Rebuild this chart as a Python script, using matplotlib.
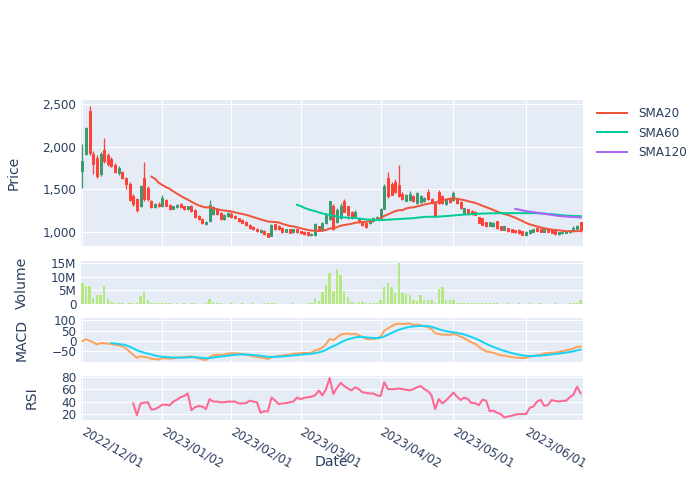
import matplotlib.pyplot as plt
import matplotlib.ticker as ticker
from matplotlib.colors import to_rgba
import numpy as np
import pandas as pd

# Tokyo trading days, 2022/12/01 - 2023/06/22
holidays = ["2023-01-02", "2023-01-03", "2023-01-09", "2023-02-23",
            "2023-03-21", "2023-05-03", "2023-05-04", "2023-05-05"]
dates = pd.bdate_range("2022-12-01", "2023-06-22")
dates = dates[~dates.isin(pd.to_datetime(holidays))]

open_ = [1717, 1913, 2422, 1920, 1870, 1680, 1960, 1900, 1860, 1790,
         1690, 1710, 1640, 1570, 1420, 1390, 1300, 1630, 1520, 1370,
         1290, 1330, 1300, 1380, 1320, 1275, 1295, 1330, 1300, 1270,
         1310, 1260, 1185, 1150, 1090, 1125, 1215, 1270, 1220, 1150,
         1190, 1215, 1190, 1160, 1140, 1120, 1080, 1060, 1040, 1000,
         1010, 985, 955, 1090, 1075, 1050, 1000, 1030, 995, 1030,
         1010, 1005, 995, 960, 965, 1065, 1025, 1100, 1150, 1300,
         1120, 1160, 1370, 1300, 1240, 1190, 1160, 1120, 1100, 1100,
         1130, 1150, 1160, 1275, 1640, 1560, 1590, 1550, 1450, 1370,
         1375, 1420, 1340, 1355, 1360, 1470, 1390, 1335, 1470, 1420,
         1330, 1395, 1376, 1395, 1357, 1221, 1267, 1252, 1240, 1174,
         1163, 1116, 1074, 1066, 1124, 1066, 1027, 1047, 1035, 1020,
         1027, 1008, 960, 985, 1005, 1050, 1040, 1000, 1030, 1030,
         1010, 975, 985, 990, 995, 1010, 1040, 1112]
high = [2040, 2235, 2480, 1950, 1900, 1940, 2110, 1930, 1880, 1810,
        1770, 1720, 1650, 1590, 1450, 1400, 1550, 1820, 1540, 1380,
        1340, 1350, 1430, 1390, 1330, 1310, 1330, 1340, 1310, 1310,
        1320, 1270, 1195, 1160, 1125, 1380, 1300, 1280, 1230, 1210,
        1240, 1230, 1200, 1170, 1150, 1125, 1090, 1065, 1045, 1030,
        1020, 990, 1090, 1095, 1085, 1055, 1040, 1040, 1040, 1040,
        1015, 1010, 1000, 985, 1100, 1075, 1120, 1215, 1370, 1330,
        1280, 1340, 1385, 1310, 1250, 1255, 1170, 1130, 1105, 1140,
        1180, 1190, 1285, 1560, 1700, 1590, 1620, 1790, 1470, 1445,
        1480, 1430, 1465, 1430, 1410, 1500, 1400, 1340, 1490, 1430,
        1400, 1405, 1480, 1400, 1365, 1285, 1275, 1260, 1245, 1180,
        1170, 1120, 1120, 1112, 1130, 1070, 1070, 1052, 1040, 1025,
        1032, 1012, 1008, 1025, 1035, 1058, 1045, 1045, 1035, 1035,
        1015, 1005, 1010, 1015, 1025, 1070, 1080, 1115]
low = [1520, 1900, 1910, 1680, 1640, 1660, 1810, 1780, 1760, 1690,
       1670, 1620, 1510, 1370, 1300, 1240, 1290, 1370, 1370, 1280,
       1280, 1290, 1290, 1300, 1260, 1265, 1285, 1280, 1255, 1260,
       1240, 1165, 1140, 1095, 1080, 1120, 1200, 1200, 1140, 1140,
       1180, 1170, 1150, 1120, 1100, 1075, 1040, 1020, 1000, 990,
       970, 935, 950, 1020, 1020, 990, 995, 985, 990, 990,
       975, 970, 955, 955, 955, 1010, 1015, 1090, 1140, 1020,
       1110, 1150, 1230, 1155, 1150, 1180, 1110, 1075, 1050, 1090,
       1120, 1140, 1150, 1265, 1400, 1430, 1455, 1410, 1380, 1360,
       1365, 1355, 1330, 1345, 1350, 1380, 1330, 1180, 1330, 1325,
       1320, 1345, 1370, 1330, 1270, 1215, 1215, 1205, 1195, 1100,
       1080, 1060, 1070, 1060, 1040, 1020, 1022, 1002, 995, 990,
       982, 960, 955, 980, 1000, 1005, 995, 995, 995, 985,
       970, 970, 980, 985, 990, 1005, 1035, 1000]
close = [1834, 2226, 1932, 1795, 1660, 1920, 1830, 1800, 1780, 1700,
         1750, 1640, 1560, 1380, 1330, 1260, 1545, 1390, 1385, 1290,
         1330, 1300, 1400, 1310, 1270, 1300, 1320, 1290, 1265, 1300,
         1250, 1175, 1150, 1110, 1120, 1320, 1290, 1210, 1150, 1200,
         1220, 1180, 1160, 1130, 1110, 1085, 1050, 1030, 1010, 1025,
         980, 945, 1080, 1030, 1030, 1000, 1030, 990, 1030, 995,
         985, 980, 960, 975, 1090, 1020, 1110, 1205, 1360, 1040,
         1260, 1300, 1240, 1195, 1160, 1240, 1120, 1080, 1060, 1130,
         1170, 1180, 1275, 1545, 1420, 1440, 1470, 1420, 1390, 1430,
         1450, 1365, 1455, 1420, 1400, 1390, 1340, 1190, 1340, 1335,
         1390, 1355, 1453, 1337, 1279, 1279, 1221, 1213, 1201, 1105,
         1085, 1066, 1116, 1108, 1047, 1027, 1066, 1008, 1000, 995,
         988, 969, 1000, 1020, 1030, 1010, 1000, 1040, 1000, 990,
         975, 1000, 1005, 1010, 1020, 1050, 1075, 1019]
# volume in millions of shares
volume_m = [7.6, 6.8, 6.8, 2.1, 3.4, 3.4, 6.5, 1.9, 0.75, 0.3,
            0.2, 0.2, 0.15, 0.3, 0.2, 0.2, 3.1, 4.4, 1.3, 0.3,
            0.2, 0.3, 0.5, 0.3, 0.2, 0.15, 0.2, 0.15, 0.2, 0.1,
            0.2, 0.2, 0.1, 0.15, 0.3, 1.8, 0.75, 0.25, 0.2, 0.1,
            0.15, 0.2, 0.1, 0.15, 0.2, 0.1, 0.15, 0.2, 0.15, 0.1,
            0.2, 0.3, 0.4, 0.2, 0.15, 0.1, 0.15, 0.1, 0.2, 0.15,
            0.1, 0.15, 0.2, 0.3, 2.3, 1.0, 4.4, 7.2, 11.6, 4.9,
            13.1, 10.6, 4.7, 2.5, 0.75, 0.5, 0.9, 0.6, 0.25, 0.2,
            0.25, 0.3, 1.3, 6.3, 7.9, 6.4, 4.0, 15.0, 4.2, 3.7,
            3.5, 1.3, 1.0, 3.5, 1.5, 1.3, 1.6, 0.4, 5.4, 6.4,
            1.4, 1.3, 1.6, 0.5, 0.4, 0.3, 0.4, 0.3, 0.2, 0.3,
            0.3, 0.2, 0.2, 0.25, 0.2, 0.15, 0.1, 0.2, 0.15, 0.1,
            0.2, 0.15, 0.1, 0.2, 0.15, 0.1, 0.2, 0.15, 0.1, 0.15,
            0.2, 0.1, 0.15, 0.1, 0.2, 0.3, 0.3, 1.5]
# RSI(14), first value on day 14
rsi = [37, 18, 37, 38, 39, 27, 28, 31, 35, 35,
       34, 40, 43, 47, 49, 53, 26, 31, 33, 32,
       28, 44, 40, 40, 39, 39, 40, 40, 40, 37,
       37, 37.5, 41.5, 40, 39, 22, 24.5, 24, 46.5, 41.5,
       36, 37, 37.5, 39, 40, 46.5, 44, 46, 47, 48,
       50, 58, 50, 60, 78, 52, 62, 70, 65, 61,
       58, 63, 60, 55, 54, 53, 53, 50, 49, 71,
       60, 60, 60, 61, 60, 59, 58, 60, 63, 65,
       60, 57, 50, 28, 44, 37, 42, 48, 54.5, 48,
       42.5, 46.5, 44, 37.5, 37.5, 34, 43, 41.5, 24.5, 25.5,
       22, 20, 14.5, 16, 17, 19, 20, 20, 20, 30,
       32, 40, 43, 33, 34.5, 42.5, 41, 40, 41, 41.5,
       47, 51, 64, 53]
tick_labels = ["2022/12/01", "2023/01/02", "2023/02/01", "2023/03/01",
               "2023/04/02", "2023/05/01", "2023/06/01"]

o = np.array(open_, dtype=float)
h = np.array(high, dtype=float)
l = np.array(low, dtype=float)
c = np.array(close, dtype=float)
x = np.arange(len(c))
s = pd.Series(c)

sma20 = s.rolling(20).mean()
sma60 = s.rolling(60).mean()
sma120 = s.rolling(120).mean()
macd = s.ewm(span=12).mean() - s.ewm(span=26).mean()
signal = macd.ewm(span=9, min_periods=9).mean()
rsi_x = x[len(x) - len(rsi):]

tick_pos = [dates.searchsorted(pd.Timestamp(t.replace("/", "-"))) for t in tick_labels]

INC, DEC = "#3D9970", "#FF4136"
TXT = "#2a3f5f"
BG = "#E5ECF6"
px = 72 / 100  # one pixel in points

fig = plt.figure(figsize=(7, 5), dpi=100)
W, H = 700, 500


def panel(top, bottom):
    ax = fig.add_axes([80.5 / W, 1 - bottom / H, 502 / W, (bottom - top) / H])
    ax.set_facecolor(BG)
    for sp in ax.spines.values():
        sp.set_visible(False)
    ax.set_xlim(-0.5, len(x) - 0.5)
    ax.set_xticks(tick_pos)
    ax.tick_params(length=0, labelsize=12 * px, labelcolor=TXT, pad=3)
    ax.tick_params(axis="x", labelbottom=False)
    ax.grid(True, color="white", linewidth=1 * px)
    ax.set_axisbelow(True)
    return ax


ax_p = panel(100, 246)
ax_v = panel(261, 304)
ax_m = panel(318, 362)
ax_r = panel(376, 420)
ax_v.grid(False, axis="x")

# candles
up = c >= o
col = np.where(up, INC, DEC)
ax_p.vlines(x, l, h, colors=col, linewidth=1.3 * px)
ax_p.bar(x, np.abs(c - o), bottom=np.minimum(o, c), width=0.55,
         color=[to_rgba(k, 0.85) for k in col], edgecolor=col, linewidth=1 * px)
l20, = ax_p.plot(x, sma20, color="#EF553B", linewidth=2 * px)
l60, = ax_p.plot(x, sma60, color="#00CC96", linewidth=2 * px)
l120, = ax_p.plot(x, sma120, color="#AB63FA", linewidth=2 * px)
ax_p.set_ylim(835, 2552)
ax_p.set_yticks([1000, 1500, 2000, 2500])
ax_p.yaxis.set_major_formatter(ticker.FuncFormatter(lambda y, _: f"{int(y):,}"))

# volume
ax_v.bar(x, volume_m, width=0.65, color="#B6E880")
ax_v.set_ylim(0, 15.9)
ax_v.set_yticks([0, 5, 10, 15])
ax_v.yaxis.set_major_formatter(ticker.FuncFormatter(lambda v, _: f"{v:g}M" if v else "0"))

# MACD
ax_m.plot(x, macd, color="#FFA15A", linewidth=2 * px)
ax_m.plot(x, signal, color="#19D3F3", linewidth=2 * px)
ax_m.set_ylim(-101, 112)
ax_m.set_yticks([-50, 0, 50, 100])

# RSI
ax_r.plot(rsi_x, rsi, color="#FF6692", linewidth=2 * px)
ax_r.set_ylim(10.4, 81.1)
ax_r.set_yticks([20, 40, 60, 80])
ax_r.tick_params(axis="x", labelbottom=True, pad=8)
ax_r.set_xticklabels(tick_labels, rotation=-30, ha="left", va="center",
                     rotation_mode="anchor")

for ax, name in [(ax_p, "Price"), (ax_v, "Volume"), (ax_m, "MACD"), (ax_r, "RSI")]:
    ax.set_ylabel(name, fontsize=14 * px, color=TXT, labelpad=16)

fig.text(331 / W, 1 - 462 / H, "Date", fontsize=14 * px, color=TXT,
         ha="center", va="center")

fig.legend([l20, l60, l120], ["SMA20", "SMA60", "SMA120"], loc="upper left",
           bbox_to_anchor=(597 / W, 1 - 107 / H), frameon=False,
           fontsize=12 * px, labelcolor=TXT, handlelength=2.5,
           handletextpad=0.9, labelspacing=0.55, borderpad=0, borderaxespad=0)

plt.savefig("out.png", dpi=100)
